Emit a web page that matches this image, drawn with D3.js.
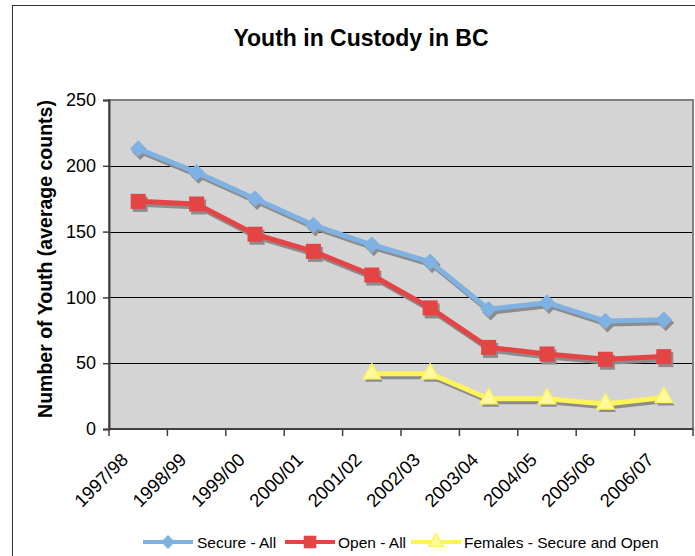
<!DOCTYPE html>
<html>
<head>
<meta charset="utf-8">
<script src="https://cdn.jsdelivr.net/npm/d3@7"></script>
<style>
  body { margin: 0; background: #fff; }
  svg { display: block; font-family: "Liberation Sans", Arial, sans-serif; }
</style>
</head>
<body>
<div id="chart"></div>
<script>
// data
var years = ["1997/98", "1998/99", "1999/00", "2000/01", "2001/02", "2002/03", "2003/04", "2004/05", "2005/06", "2006/07"];
var secureAll = [213, 195, 175, 155, 140, 127, 91, 96, 82, 83];
var openAll = [173, 171, 148, 135, 117, 92, 62, 57, 53, 55];
var females = [null, null, null, null, 42, 42, 23, 23, 19, 24];
var yTicks = [0, 50, 100, 150, 200, 250];

var series = [
  { name: "Secure - All", values: secureAll, color: "#7fb2e3", fill: "#7fb2e3", shape: "diamond" },
  { name: "Open - All", values: openAll, color: "#e54444", fill: "#e54444", shape: "square" },
  { name: "Females - Secure and Open", values: females, color: "#fff35a", fill: "#fff9a0", shape: "triangle" }
];

var width = 695, height = 556;
var plot = { left: 109, top: 100, right: 693, bottom: 429 };

var svg = d3.select("#chart").append("svg")
  .attr("width", width)
  .attr("height", height);

// outer frame
svg.append("rect")
  .attr("x", 12.5).attr("y", 5.5)
  .attr("width", 700).attr("height", 600)
  .attr("fill", "#fff").attr("stroke", "#333").attr("stroke-width", 1);

var x = d3.scaleBand().domain(years).range([plot.left, plot.right]).padding(0);
var y = d3.scaleLinear().domain([0, 250]).range([plot.bottom, plot.top]);

// plot background
svg.append("rect")
  .attr("x", plot.left).attr("y", plot.top)
  .attr("width", plot.right - plot.left).attr("height", plot.bottom - plot.top)
  .attr("fill", "#d4d4d4");

// grid lines
svg.append("g")
  .selectAll("line")
  .data(yTicks.filter(d => d > 0 && d < 250))
  .enter().append("line")
  .attr("x1", plot.left).attr("x2", plot.right)
  .attr("y1", d => Math.round(y(d)) + 0.5).attr("y2", d => Math.round(y(d)) + 0.5)
  .attr("stroke", "#000").attr("stroke-width", 1);

// plot border
svg.append("rect")
  .attr("x", plot.left).attr("y", plot.top)
  .attr("width", plot.right - plot.left).attr("height", plot.bottom - plot.top)
  .attr("fill", "none").attr("stroke", "#808080").attr("stroke-width", 2);

// y axis
var yAxis = svg.append("g")
  .attr("transform", "translate(" + plot.left + ",0)")
  .call(d3.axisLeft(y).tickValues(yTicks).tickSize(6).tickPadding(7));
yAxis.select(".domain").attr("stroke", "#404040").attr("stroke-width", 2);
yAxis.selectAll(".tick line").attr("stroke", "#404040").attr("stroke-width", 1.5);
yAxis.selectAll("text").style("font-size", "18px").attr("fill", "#000");

// x axis with ticks on category boundaries
var xAxis = svg.append("g")
  .attr("transform", "translate(0," + plot.bottom + ")");
xAxis.append("line")
  .attr("x1", plot.left).attr("x2", plot.right)
  .attr("stroke", "#404040").attr("stroke-width", 2);
var bounds = years.map(d => x(d)).concat([plot.right]);
xAxis.selectAll("line.tk")
  .data(bounds)
  .enter().append("line")
  .attr("class", "tk")
  .attr("x1", d => d).attr("x2", d => d)
  .attr("y1", 0).attr("y2", 7)
  .attr("stroke", "#404040").attr("stroke-width", 1.5);
xAxis.selectAll("text")
  .data(years)
  .enter().append("text")
  .attr("transform", d => "translate(" + (x(d) + x.bandwidth() / 2 - 9) + ",32) rotate(-45)")
  .attr("text-anchor", "end")
  .style("font-size", "18.5px")
  .text(d => d);

// title and axis title
svg.append("text")
  .attr("x", 361).attr("y", 46)
  .attr("text-anchor", "middle")
  .style("font-size", "23px").style("font-weight", "bold")
  .text("Youth in Custody in BC");

svg.append("text")
  .attr("transform", "translate(52,259) rotate(-90)")
  .attr("text-anchor", "middle")
  .style("font-size", "19.5px").style("font-weight", "bold")
  .text("Number of Youth (average counts)");

function markerPath(shape, scale) {
  if (shape === "diamond") return d3.symbol().type(d3.symbolSquare).size(140 * scale)();
  if (shape === "square") return d3.symbol().type(d3.symbolSquare).size(225 * scale)();
  return d3.symbol().type(d3.symbolTriangle).size(130 * scale)();
}
function markerRot(shape) { return shape === "diamond" ? " rotate(45)" : ""; }

var line = d3.line()
  .defined(d => d.v != null)
  .x(d => x(d.year) + x.bandwidth() / 2)
  .y(d => y(d.v));

series.forEach(function (s) {
  var pts = years.map((yr, i) => ({ year: yr, v: s.values[i] }));
  var valid = pts.filter(d => d.v != null);
  var g = svg.append("g");

  // shadow
  var sh = g.append("g").attr("transform", "translate(2,3)");
  sh.append("path").attr("d", line(pts))
    .attr("fill", "none").attr("stroke", "#8c8c8c").attr("stroke-width", 5)
    .attr("stroke-linejoin", "round");
  sh.selectAll("path.m").data(valid).enter().append("path")
    .attr("class", "m")
    .attr("d", markerPath(s.shape, 1))
    .attr("transform", d => "translate(" + (x(d.year) + x.bandwidth() / 2) + "," + y(d.v) + ")" + markerRot(s.shape))
    .attr("fill", "#8c8c8c");

  // series line and markers
  var fg = g.append("g");
  fg.append("path").attr("d", line(pts))
    .attr("fill", "none").attr("stroke", s.color).attr("stroke-width", 5)
    .attr("stroke-linejoin", "round");
  fg.selectAll("path.m").data(valid).enter().append("path")
    .attr("class", "m")
    .attr("d", markerPath(s.shape, 1))
    .attr("transform", d => "translate(" + (x(d.year) + x.bandwidth() / 2) + "," + y(d.v) + ")" + markerRot(s.shape))
    .attr("fill", s.fill)
    .attr("stroke", s.shape === "triangle" ? s.color : "none")
    .attr("stroke-width", 1.5);
});

// legend
var legendX = [143, 285, 411];
var legendTextX = [197, 338, 464];
var ly = 542;
series.forEach(function (s, i) {
  var g = svg.append("g");
  g.append("line")
    .attr("x1", legendX[i]).attr("x2", legendX[i] + 50)
    .attr("y1", ly).attr("y2", ly)
    .attr("stroke", s.color).attr("stroke-width", 4);
  g.append("path")
    .attr("d", markerPath(s.shape, 0.7))
    .attr("transform", "translate(" + (legendX[i] + 25) + "," + ly + ")" + markerRot(s.shape))
    .attr("fill", s.fill)
    .attr("stroke", s.shape === "triangle" ? s.color : "none")
    .attr("stroke-width", 1.5);
  g.append("text")
    .attr("x", legendTextX[i]).attr("y", ly + 6)
    .style("font-size", "15.5px")
    .text(s.name);
});
</script>
</body>
</html>
